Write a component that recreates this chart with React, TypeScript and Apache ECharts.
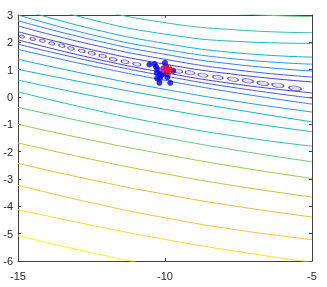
import React, { useEffect, useRef } from "react";
import * as echarts from "echarts";

// ---- axes ----
const xRange = [-15, -5];
const yRange = [-6, 3];

// ---- contour lines above the valley (x, y) ----
const contourA1 = [[-15, 2.39], [-12.5, 1.73], [-10, 1.2], [-7.5, 0.81], [-5, 0.55]];
const contourA2 = [[-15, 2.6], [-12.5, 1.92], [-10, 1.38], [-7.5, 0.98], [-5, 0.73]];
const contourA3 = [[-15, 2.79], [-12.5, 2.1], [-10, 1.56], [-7.5, 1.18], [-5, 0.95]];
const contourA4 = [[-15, 3.0], [-12.5, 2.28], [-10, 1.74], [-7.5, 1.38], [-5, 1.2]];
const contourA5 = [[-15, 3.24], [-12.5, 2.5], [-10, 1.96], [-7.5, 1.61], [-5, 1.46]];
const contourA6 = [[-15, 3.6], [-12.5, 2.83], [-10, 2.3], [-7.5, 2.03], [-5, 1.96]];
const contourA7 = [[-15, 4.0], [-12.5, 3.25], [-10, 2.72], [-7.5, 2.45], [-5, 2.35]];
const contourA8 = [[-10, 3.3], [-7.5, 3.05], [-5, 2.94]];

// ---- contour lines below the valley (x, y) ----
const contourB1 = [[-15, 2.09], [-12.5, 1.43], [-10, 0.89], [-7.5, 0.46], [-5, 0.15]];
const contourB2 = [[-15, 1.93], [-12.5, 1.31], [-10, 0.77], [-7.5, 0.32], [-5, -0.04]];
const contourB3 = [[-15, 1.74], [-12.5, 1.14], [-10, 0.61], [-7.5, 0.14], [-5, -0.26]];
const contourB4 = [[-15, 1.38], [-12.5, 0.8], [-10, 0.28], [-7.5, -0.17], [-5, -0.55]];
const contourB5 = [[-15, 1.01], [-12.5, 0.48], [-10, -0.02], [-7.5, -0.48], [-5, -0.91]];
const contourB6 = [[-15, 0.62], [-12.5, 0.05], [-10, -0.45], [-7.5, -0.89], [-5, -1.27]];
const contourB7 = [[-15, 0.19], [-12.5, -0.45], [-10, -1.0], [-7.5, -1.45], [-5, -1.8]];
const contourB8 = [[-15, -0.38], [-12.5, -0.96], [-10, -1.49], [-7.5, -1.96], [-5, -2.37]];
const contourB9 = [[-15, -1.0], [-12.5, -1.58], [-10, -2.1], [-7.5, -2.57], [-5, -2.98]];
const contourB10 = [[-15, -1.68], [-12.5, -2.28], [-10, -2.81], [-7.5, -3.27], [-5, -3.66]];
const contourB11 = [[-15, -2.43], [-12.5, -3.03], [-10, -3.56], [-7.5, -4.01], [-5, -4.39]];
const contourB12 = [[-15, -3.23], [-12.5, -3.87], [-10, -4.42], [-7.5, -4.87], [-5, -5.22]];
const contourB13 = [[-15, -4.12], [-12.5, -4.69], [-10, -5.21], [-7.5, -5.66], [-5, -6.05]];
const contourB14 = [[-15, -5.07], [-12.5, -5.7], [-10, -6.25]];

// contour level (0 = valley minimum, 14 = highest)
const contourSet = [
  { pts: contourA1, level: 1 }, { pts: contourA2, level: 2 }, { pts: contourA3, level: 3 },
  { pts: contourA4, level: 4 }, { pts: contourA5, level: 5 }, { pts: contourA6, level: 6 },
  { pts: contourA7, level: 7 }, { pts: contourA8, level: 8 },
  { pts: contourB1, level: 1 }, { pts: contourB2, level: 2 }, { pts: contourB3, level: 3 },
  { pts: contourB4, level: 4 }, { pts: contourB5, level: 5 }, { pts: contourB6, level: 6 },
  { pts: contourB7, level: 7 }, { pts: contourB8, level: 8 }, { pts: contourB9, level: 9 },
  { pts: contourB10, level: 10 }, { pts: contourB11, level: 11 }, { pts: contourB12, level: 12 },
  { pts: contourB13, level: 13 }, { pts: contourB14, level: 14 },
];
const maxLevel = 14;

// ---- valley minimum loops ----
const valleyX = [-14.87, -14.5, -14.17, -13.85, -13.51, -13.2, -12.83, -12.49, -12.12, -11.76, -11.36, -10.96,
  -9.56, -9.15, -8.71, -8.2, -7.69, -7.18, -6.67, -6.16, -5.58];
const valleyY = [2.21, 2.12, 2.06, 1.96, 1.88, 1.78, 1.69, 1.6, 1.5, 1.38, 1.29, 1.2,
  0.95, 0.89, 0.8, 0.72, 0.65, 0.59, 0.5, 0.43, 0.32];

// ---- samples (blue) ----
const sampleX = [-10.53, -10.36, -10.31, -10.26, -10.28, -10.18, -10.17, -10.27, -10.0, -9.98, -10.06, -9.94,
  -9.92, -9.82, -10.19, -9.72, -10.12, -10.05];
const sampleY = [1.19, 1.21, 1.11, 1.02, 0.88, 0.84, 0.69, 0.68, 1.25, 1.12, 0.93, 0.84,
  0.72, 0.52, 0.52, 0.96, 0.8, 1.05];

// ---- estimates ----
const meanX = [-10.05];
const meanY = [1.02];
const starX = [-9.89, -9.94, -9.85];
const starY = [1.0, 1.04, 0.96];

const parulaStops = ["#3e26a8", "#4751f0", "#2b8ef0", "#0bb2d8", "#2cc3a5", "#8ccc5a", "#dcbc36", "#fcc43a", "#f9fb14"];
function parula(t: number): string {
  const tt = Math.max(0, Math.min(1, t));
  const p = tt * (parulaStops.length - 1);
  const i = Math.min(parulaStops.length - 2, Math.floor(p));
  const f = p - i;
  const a = parulaStops[i], b = parulaStops[i + 1];
  const ch = (s: string, k: number) => parseInt(s.slice(1 + 2 * k, 3 + 2 * k), 16);
  const c = [0, 1, 2].map((k) => Math.round(ch(a, k) + (ch(b, k) - ch(a, k)) * f));
  return `rgb(${c[0]},${c[1]},${c[2]})`;
}

const starPath =
  "path://M-0.6,-5L0.6,-5L0.6,5L-0.6,5Z M-5,-0.6L5,-0.6L5,0.6L-5,0.6Z M-3.96,-3.11L-3.11,-3.96L3.96,3.11L3.11,3.96Z M3.11,-3.96L3.96,-3.11L-3.11,3.96L-3.96,3.11Z";

export default function App() {
  const ref = useRef<HTMLDivElement>(null);
  useEffect(() => {
    if (!ref.current) return;
    const chart = echarts.init(ref.current, null, { renderer: "svg" });
    const axisColor = "#404040";
    const labelStyle = { fontSize: 11, color: "#262626", fontFamily: "Liberation Sans, Arial, sans-serif" };
    const axisLine = { show: true, onZero: false, lineStyle: { color: axisColor, width: 1 } };
    const axisTick = { show: true, inside: true, length: 3, lineStyle: { color: axisColor } };
    const lineSeries = contourSet.map((c) => ({
      type: "line",
      data: c.pts,
      smooth: 0.5,
      showSymbol: false,
      silent: true,
      clip: true,
      lineStyle: { width: 1, color: parula(c.level / maxLevel) },
      z: 2,
    }));
    chart.setOption({
      animation: false,
      grid: { left: 18, top: 15, width: 294, height: 246 },
      xAxis: [
        {
          type: "value", min: xRange[0], max: xRange[1], interval: 5,
          axisLine, axisTick, splitLine: { show: false },
          axisLabel: { ...labelStyle, margin: 9 },
        },
        {
          type: "value", position: "top", min: xRange[0], max: xRange[1], interval: 5,
          axisLine, axisTick, splitLine: { show: false }, axisLabel: { show: false },
        },
      ],
      yAxis: [
        {
          type: "value", min: yRange[0], max: yRange[1], interval: 1,
          axisLine, axisTick, splitLine: { show: false },
          axisLabel: { ...labelStyle, margin: 5 },
        },
        {
          type: "value", position: "right", min: yRange[0], max: yRange[1], interval: 1,
          axisLine, axisTick, splitLine: { show: false }, axisLabel: { show: false },
        },
      ],
      series: [
        ...lineSeries,
        {
          type: "scatter",
          data: valleyX.map((x, i) => [x, valleyY[i]]),
          symbol: "circle",
          symbolSize: (v: number[]) => {
            const f = (v[0] - xRange[0]) / (xRange[1] - xRange[0]);
            return [5 + 8 * f, 3 + 1.5 * f];
          },
          symbolRotate: (v: number[]) => {
            const f = (v[0] - xRange[0]) / (xRange[1] - xRange[0]);
            return -13 + 6 * f;
          },
          itemStyle: { color: "#dcdaf0", borderColor: "#4a3fb8", borderWidth: 1 },
          silent: true,
          z: 3,
        },
        {
          type: "scatter",
          data: sampleX.map((x, i) => [x, sampleY[i]]),
          symbol: "circle",
          symbolSize: 6,
          itemStyle: { color: "#0000ff" },
          silent: true,
          z: 4,
        },
        {
          type: "scatter",
          data: meanX.map((x, i) => [x, meanY[i]]),
          symbol: "circle",
          symbolSize: 7,
          itemStyle: { color: "#e02ad0" },
          silent: true,
          z: 5,
        },
        {
          type: "scatter",
          data: starX.map((x, i) => [x, starY[i]]),
          symbol: starPath,
          symbolSize: 10,
          symbolRotate: 12,
          itemStyle: { color: "#ff1010" },
          silent: true,
          z: 6,
        },
      ],
    });
    return () => chart.dispose();
  }, []);
  return <div ref={ref} style={{ position: "fixed", left: 0, top: 0, width: 327, height: 287 }} />;
}
